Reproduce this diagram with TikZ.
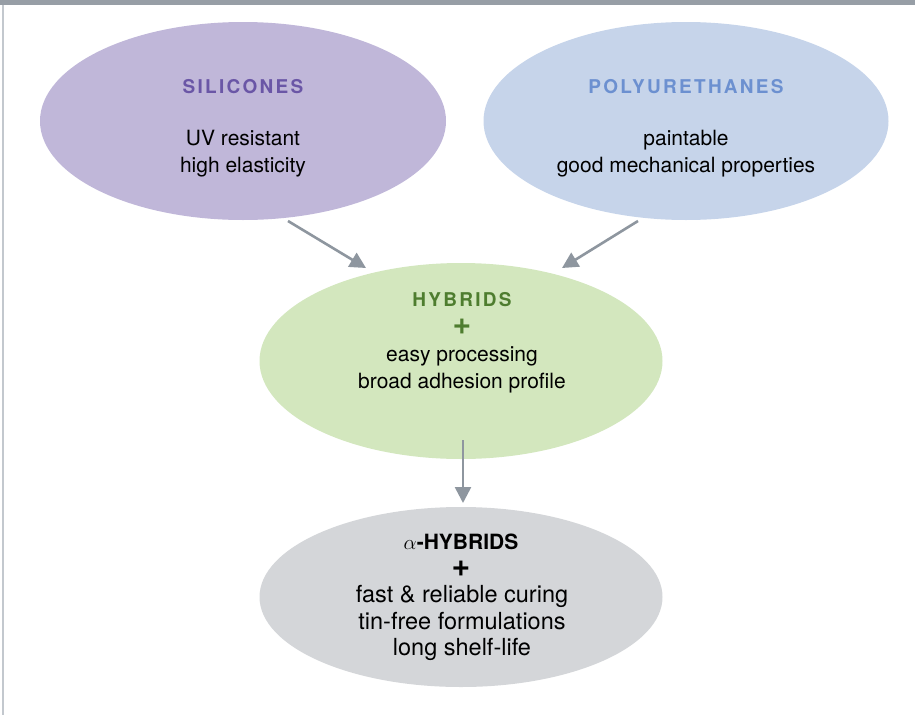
\documentclass[tikz,border=0pt]{standalone}
\usepackage{fontspec}
\setmainfont{TeX Gyre Heros}
\newfontfamily\titlefont[LetterSpace=12]{TeX Gyre Heros}
\usetikzlibrary{arrows.meta,shapes.geometric}
\definecolor{barcol}{HTML}{979EA6}
\definecolor{edgecol}{HTML}{C3C8CE}
\definecolor{silfill}{HTML}{C0B7D9}
\definecolor{siltext}{HTML}{6A56A6}
\definecolor{pufill}{HTML}{C6D4EA}
\definecolor{putext}{HTML}{6C90D0}
\definecolor{hyfill}{HTML}{D3E7BE}
\definecolor{hytext}{HTML}{4E7D2F}
\definecolor{ahfill}{HTML}{D4D6D9}
\definecolor{arrcol}{HTML}{8E969F}
\begin{document}
\begin{tikzpicture}[x=1pt,y=-1pt,
  blob/.style={ellipse,draw=none,inner sep=0pt},
  ttl/.style={font=\titlefont\fontsize{19}{22}\selectfont\bfseries,anchor=center,inner sep=1pt},
  plus/.style={font=\fontsize{32}{32}\selectfont\bfseries,inner sep=0pt},
  body/.style={font=\fontsize{21}{27}\selectfont,align=center,anchor=center,text=black},
  bigbody/.style={font=\fontsize{23.5}{26.5}\selectfont,align=center,anchor=center,text=black},
  conn/.style={draw=arrcol,line width=2.6pt,-{Triangle[length=16pt,width=16pt]}}]
\useasboundingbox (0,0) rectangle (915,715);
\fill[barcol] (0,0) rectangle (915,5);
\fill[edgecol] (2,5) rectangle (4,715);
% ellipses
\node[blob,fill=silfill,minimum width=406pt,minimum height=198pt] (sil) at (243,121) {};
\node[blob,fill=pufill,minimum width=405pt,minimum height=198pt] (pu) at (686,121) {};
\node[blob,fill=hyfill,minimum width=403pt,minimum height=196pt] (hy) at (461,361) {};
\node[blob,fill=ahfill,minimum width=403pt,minimum height=180pt] (ah) at (461,597) {};
% texts
\node[ttl,text=siltext] (silt) at (243,87) {SILICONES};
\node[body] (silb) at (243,154) {UV resistant\\high elasticity};
\node[ttl,text=putext] (put) at (686,87) {POLYURETHANES};
\node[body] (pub) at (686,154) {paintable\\good mechanical properties};
\node[ttl,text=hytext] (hyt) at (462,300) {HYBRIDS};
\node[plus,text=hytext] (hyp) at (462,327) {+};
\node[body] (hyb) at (462,370) {easy processing\\broad adhesion profile};
\node[font=\fontsize{21}{24}\selectfont\bfseries,text=black,inner sep=1pt] (aht) at (461,542) {$\alpha$-HYBRIDS};
\node[plus,text=black] (ahp) at (461,569) {+};
\node[bigbody] (ahb) at (462,623) {fast \& reliable curing\\tin-free formulations\\long shelf-life};
% connectors
\coordinate (a1) at (288,221);
\coordinate (a2) at (366,268);
\coordinate (b1) at (638,221);
\coordinate (b2) at (562,268);
\coordinate (c1) at (463,440);
\coordinate (c2) at (463,503);
\draw[conn] (a1) -- (a2);
\draw[conn] (b1) -- (b2);
\draw[conn] (c1) -- (c2);
\end{tikzpicture}
\end{document}
